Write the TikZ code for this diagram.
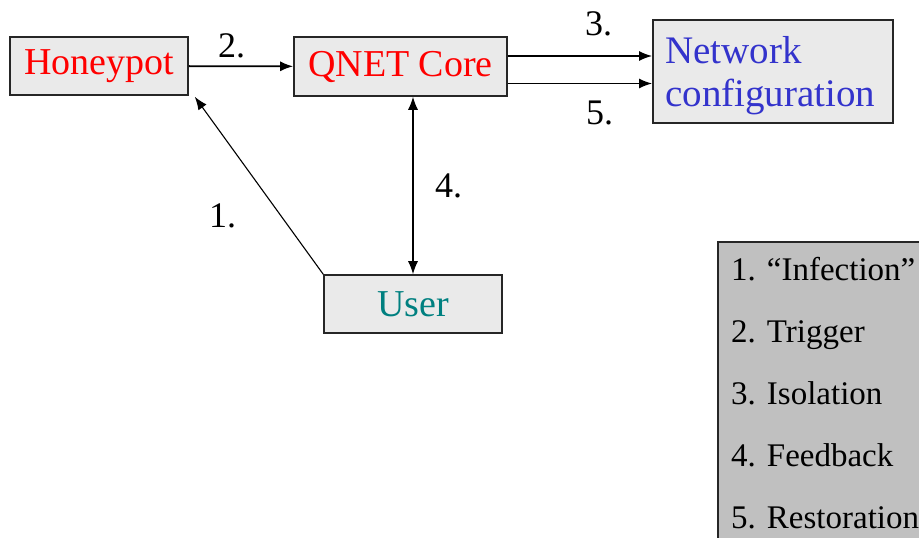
\documentclass[tikz,border=0pt]{standalone}
\usepackage{fontspec}
\setmainfont{Liberation Serif}
\usepackage{tikz}
\usetikzlibrary{calc,arrows.meta}
\definecolor{boxgray}{HTML}{EAEAEA}
\definecolor{keygray}{HTML}{C0C0C0}
\definecolor{netblue}{HTML}{3333CC}
\definecolor{userteal}{HTML}{008080}

\begin{document}
\begin{tikzpicture}[x=1pt,y=-1pt,
    blk/.style={draw=black!85,line width=1.6pt,fill=boxgray,inner sep=0pt,
                font=\fontsize{38}{40}\selectfont},
    tip/.style={-{Latex[length=13pt,width=10pt]}},
    tips/.style={{Latex[length=13pt,width=10pt]}-{Latex[length=13pt,width=10pt]}},
    num/.style={anchor=base west,inner sep=0pt,font=\fontsize{36}{38}\selectfont},
    key/.style={anchor=base west,inner sep=0pt,font=\fontsize{33}{35}\selectfont}]
                      \useasboundingbox (0,0) rectangle (919,538);
                      \node[blk,text=red,minimum width=178pt,minimum height=58pt](hp)at(99,66){Honeypot};
                      \node[blk,text=red,minimum width=213pt,minimum height=59pt](core)at(400.5,66.5){QNET Core};
                      \node[blk,minimum width=240pt,minimum height=103pt](net)at(773,71.5){};
                      \node[anchor=base west,inner sep=0pt,text=netblue,align=left,
                            font=\fontsize{39}{43}\selectfont](nettxt)at(665,106){Network\\configuration};
                      \node[blk,text=userteal,minimum width=178pt,minimum height=58pt](usr)at(413,304){User};
                      \coordinate (c3) at ([yshift=10.5pt]core.east);
                      \coordinate (c5) at ([yshift=-17pt]core.east);
                      \draw[line width=1.8pt,tip] (hp) -- (core);
                      \draw[line width=1.8pt,tip] (c3) -- (c3 -| net.west);
                      \draw[line width=1.8pt,tip] (c5) -- (c5 -| net.west);
                      \draw[line width=1.1pt,tips] (usr.north) -- (usr.north |- core.south);
                      \draw[line width=1.1pt,tip] (usr.north west) -- ([shift={(6,1)}]hp.south east);
                      \node[num](n1)at(209,227){1.};
                      \node[num](n2)at(218,57){2.};
                      \node[num](n3)at(585,35){3.};
                      \node[num](n4)at(435,197){4.};
                      \node[num](n5)at(586,124){5.};
                      % legend
                      \draw[draw=black!85,line width=1.6pt,fill=keygray] (718,242) rectangle (930,550);
                      \foreach \y/\t in {280/1. “Infection”,342/2. Trigger,404/3. Isolation,466/4. Feedback,528/5. Restoration}
                        \node[key] at (731,\y) {\t};
                  \end{tikzpicture}
\end{document}
